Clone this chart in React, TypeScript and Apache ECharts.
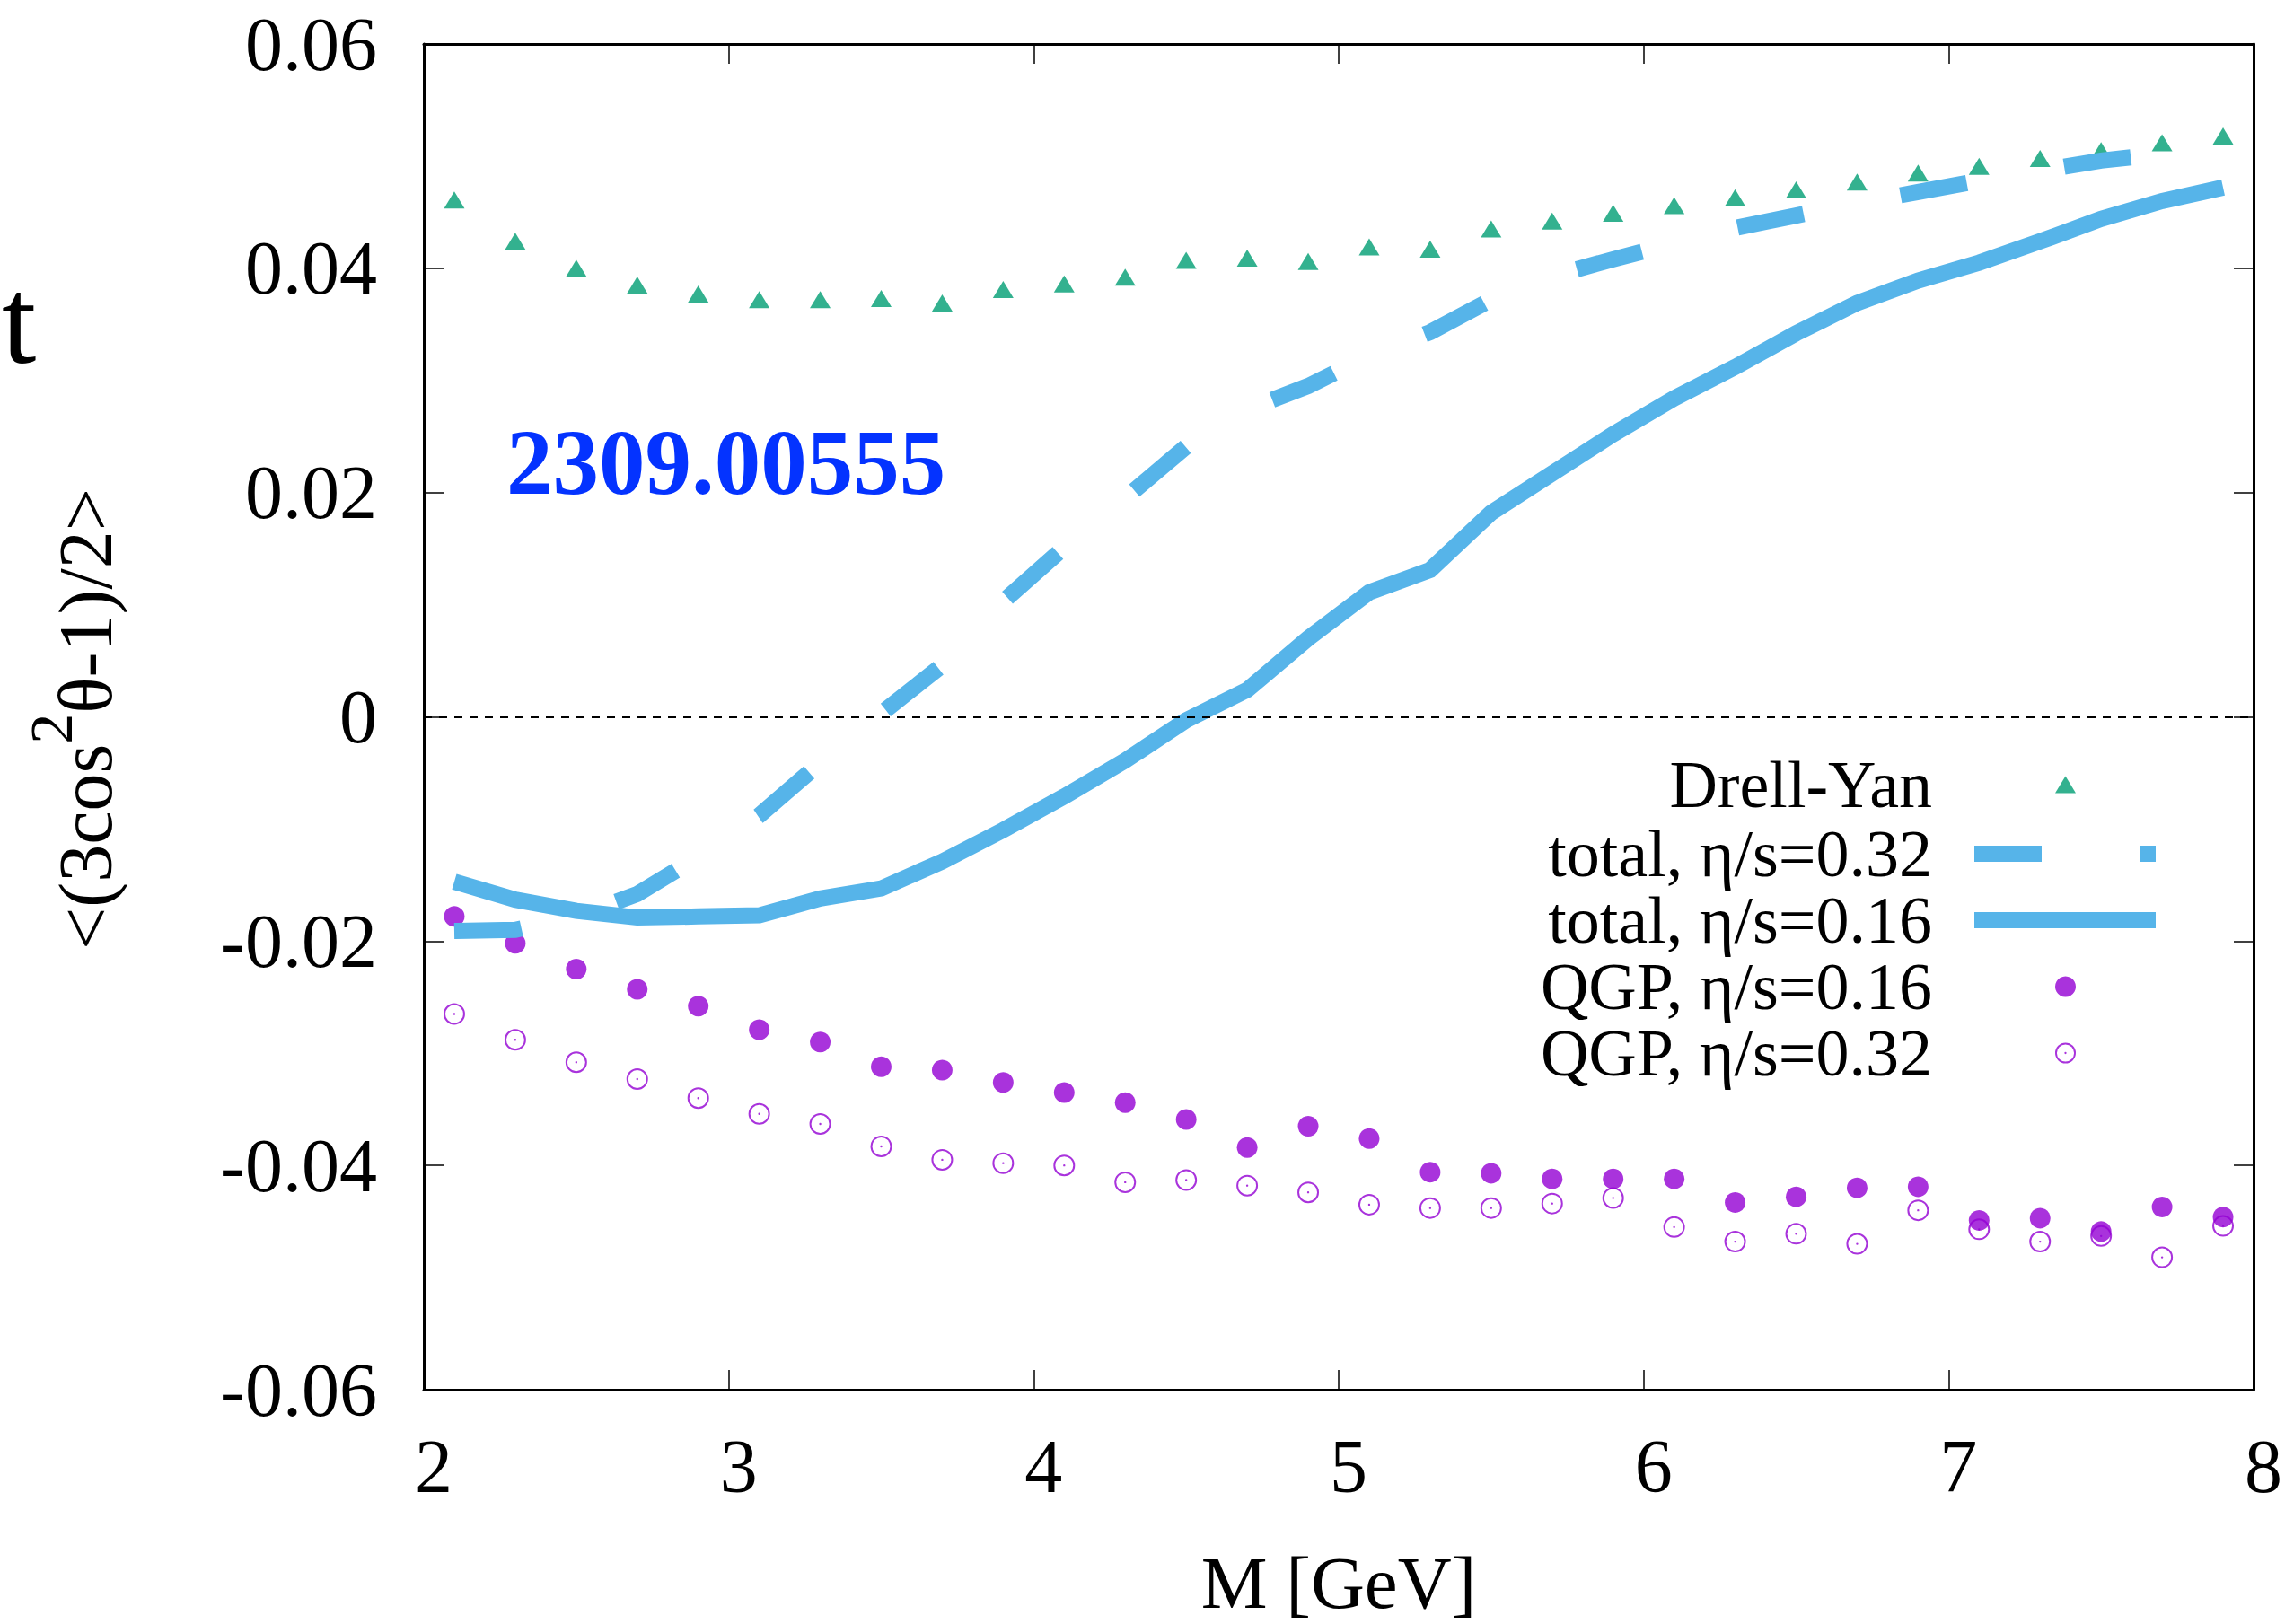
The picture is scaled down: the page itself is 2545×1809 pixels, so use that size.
import React, { useEffect, useRef } from 'react';
import * as echarts from 'echarts';

// Invariant mass M [GeV]
const massValues = [2.1, 2.3, 2.5, 2.7, 2.9, 3.1, 3.3, 3.5, 3.7, 3.9, 4.1, 4.3, 4.5, 4.7, 4.9, 5.1, 5.3, 5.5, 5.7, 5.9, 6.1, 6.3, 6.5, 6.7, 6.9, 7.1, 7.3, 7.5, 7.7, 7.9];

const drellYan = [0.0461, 0.0424, 0.0400, 0.0385, 0.0377, 0.0372, 0.0372, 0.0373, 0.0369, 0.0381, 0.0386, 0.0392, 0.0407, 0.0409, 0.0406, 0.0419, 0.0417, 0.0435, 0.0442, 0.0449, 0.0456, 0.0463, 0.0470, 0.0477, 0.0485, 0.0491, 0.0498, 0.0505, 0.0512, 0.0518];

const total032 = [-0.0191, -0.0190, -0.0178, -0.0158, -0.0125, -0.0088, -0.0041, 0.0003, 0.0046, 0.0103, 0.0151, 0.0195, 0.0241, 0.0274, 0.0295, 0.0322, 0.0343, 0.0372, 0.0393, 0.0408, 0.0422, 0.0436, 0.0447, 0.0458, 0.0468, 0.0478, 0.0487, 0.0496, 0.0502, 0.0508];

const total016 = [-0.0147, -0.0163, -0.0173, -0.0179, -0.0178, -0.0177, -0.0162, -0.0153, -0.0129, -0.0101, -0.0071, -0.0039, -0.0003, 0.0024, 0.0070, 0.0111, 0.0131, 0.0182, 0.0217, 0.0252, 0.0284, 0.0312, 0.0342, 0.0369, 0.0389, 0.0405, 0.0424, 0.0444, 0.0460, 0.0472];

const qgp016 = [-0.0178, -0.0202, -0.0225, -0.0243, -0.0258, -0.0279, -0.0290, -0.0312, -0.0315, -0.0326, -0.0335, -0.0344, -0.0359, -0.0384, -0.0365, -0.0376, -0.0406, -0.0407, -0.0412, -0.0412, -0.0412, -0.0433, -0.0428, -0.0420, -0.0419, -0.0449, -0.0447, -0.0459, -0.0437, -0.0446];

const qgp032 = [-0.0265, -0.0288, -0.0308, -0.0323, -0.0340, -0.0354, -0.0363, -0.0383, -0.0395, -0.0398, -0.0400, -0.0415, -0.0413, -0.0418, -0.0424, -0.0435, -0.0438, -0.0438, -0.0434, -0.0429, -0.0455, -0.0468, -0.0461, -0.0470, -0.0440, -0.0457, -0.0468, -0.0463, -0.0482, -0.0454];

const seriesNames = ['Drell-Yan', 'total, η/s=0.32', 'total, η/s=0.16', 'QGP, η/s=0.16', 'QGP, η/s=0.32'];

const xRange = { min: 2, max: 8, interval: 1 };
const yRange = { min: -0.06, max: 0.06, interval: 0.02 };

const FONT = 'Liberation Serif';
const BLUE = '#56b4e9';
const GREEN = '#009e73';
const PURPLE = '#9400d3';

const openCirclePath =
  'path://M24 12A12 12 0 1 1 0 12A12 12 0 1 1 24 12Z' +
  'M22 12A10 10 0 1 0 2 12A10 10 0 1 0 22 12Z' +
  'M13.2 12A1.2 1.2 0 1 1 10.8 12A1.2 1.2 0 1 1 13.2 12Z';

const pairs = (ys: number[]) => massValues.map((m, i) => [m, ys[i]]);

export default function App() {
  const ref = useRef<HTMLDivElement>(null);

  useEffect(() => {
    document.body.style.margin = '0';
    if (!ref.current) return;
    const chart = echarts.init(ref.current, null, { renderer: 'svg' });

    const frameLine = { show: true, onZero: false, lineStyle: { color: '#000', width: 3 } };
    const tick = { show: true, inside: true, length: 22, lineStyle: { color: '#000', width: 1.5 } };

    const legendText = (padRight: number) => ({
      fontFamily: FONT, fontSize: 74, color: '#000', lineHeight: 74,
      padding: [0, padRight, 0, 0],
    });
    const legendBase = {
      show: true, orient: 'vertical', align: 'right', padding: 0, itemGap: 0,
      selectedMode: false, symbolKeepAspect: true,
    };

    const option: any = {
      animation: false,
      backgroundColor: '#fff',
      grid: { left: 472, right: 33, top: 49, bottom: 254, containLabel: false },
      xAxis: [
        {
          type: 'value', position: 'bottom', ...xRange,
          axisLine: frameLine, axisTick: tick, splitLine: { show: false },
          axisLabel: {
            show: true, margin: 43, fontFamily: FONT, fontSize: 84, color: '#000',
            padding: [0, 0, 0, 22],
            formatter: (v: number) => String(Math.round(v)),
          },
          name: 'M [GeV]', nameLocation: 'middle', nameGap: 173,
          nameTextStyle: { fontFamily: FONT, fontSize: 83, color: '#000' },
        },
        {
          type: 'value', position: 'top', ...xRange,
          axisLine: frameLine, axisTick: tick, splitLine: { show: false },
          axisLabel: { show: false },
        },
      ],
      yAxis: [
        {
          type: 'value', position: 'left', ...yRange,
          axisLine: frameLine, axisTick: tick, splitLine: { show: false },
          axisLabel: {
            show: true, margin: 52, fontFamily: FONT, fontSize: 84, color: '#000',
            formatter: (v: number) => (Math.abs(v) < 1e-9 ? '0' : v.toFixed(2)),
          },
        },
        {
          type: 'value', position: 'right', ...yRange,
          axisLine: frameLine, axisTick: tick, splitLine: { show: false },
          axisLabel: { show: false },
        },
      ],
      legend: [
        {
          ...legendBase,
          right: 233, top: 837, itemWidth: 23, itemHeight: 19,
          textStyle: legendText(132),
          data: [{ name: seriesNames[0] }],
        },
        {
          ...legendBase,
          right: 135, top: 914, itemWidth: 202, itemHeight: 22,
          textStyle: legendText(42),
          data: [
            { name: seriesNames[1], itemStyle: { opacity: 0 }, lineStyle: { width: 18, type: [75, 110], cap: 'butt' } },
            { name: seriesNames[2], itemStyle: { opacity: 0 }, lineStyle: { width: 18, type: 'solid', cap: 'butt' } },
          ],
        },
        {
          ...legendBase,
          right: 233, top: 1062, itemWidth: 23, itemHeight: 23,
          textStyle: legendText(132),
          data: [{ name: seriesNames[3] }, { name: seriesNames[4] }],
        },
      ],
      series: [
        {
          name: seriesNames[0], type: 'scatter', xAxisIndex: 0, yAxisIndex: 0,
          data: pairs(drellYan), symbol: 'triangle', symbolSize: [23, 19],
          itemStyle: { color: GREEN },
        },
        {
          name: seriesNames[1], type: 'line', xAxisIndex: 0, yAxisIndex: 0,
          data: pairs(total032), symbol: 'none', showSymbol: false,
          itemStyle: { color: BLUE },
          lineStyle: { color: BLUE, width: 18, type: [75, 110], dashOffset: 0, cap: 'butt', join: 'miter' },
        },
        {
          name: seriesNames[2], type: 'line', xAxisIndex: 0, yAxisIndex: 0,
          data: pairs(total016), symbol: 'none', showSymbol: false,
          itemStyle: { color: BLUE },
          lineStyle: { color: BLUE, width: 18, type: 'solid', cap: 'butt', join: 'miter' },
        },
        {
          name: seriesNames[3], type: 'scatter', xAxisIndex: 0, yAxisIndex: 0,
          data: pairs(qgp016), symbol: 'circle', symbolSize: 23,
          itemStyle: { color: PURPLE },
        },
        {
          name: seriesNames[4], type: 'scatter', xAxisIndex: 0, yAxisIndex: 0,
          data: pairs(qgp032), symbol: openCirclePath, symbolSize: 24,
          itemStyle: { color: PURPLE },
          markLine: {
            silent: true, symbol: ['none', 'none'], animation: false,
            label: { show: false },
            lineStyle: { color: '#000', width: 2, type: [9, 8] },
            data: [{ yAxis: 0 }],
          },
        },
      ],
      graphic: [
        {
          type: 'text', x: 2, y: 357,
          style: { text: 't', fontFamily: FONT, fontSize: 138, fill: '#000', align: 'left', verticalAlign: 'middle' },
        },
        {
          type: 'text', x: 564, y: 515,
          style: {
            text: '2309.00555', fontFamily: FONT, fontWeight: 'bold', fontSize: 103,
            fill: '#0433ff', align: 'left', verticalAlign: 'middle',
          },
        },
        {
          type: 'text', x: 95, y: 801, rotation: Math.PI / 2,
          style: {
            text: '{a|<(3cos}{b|2}{a|θ-1)/2>}',
            align: 'center', verticalAlign: 'middle',
            rich: {
              a: { fontFamily: FONT, fontSize: 84, lineHeight: 144, fill: '#000' },
              b: { fontFamily: FONT, fontSize: 68, lineHeight: 68, verticalAlign: 'top', fill: '#000' },
            },
          },
        },
      ],
    };

    chart.setOption(option);
    return () => chart.dispose();
  }, []);

  return <div ref={ref} style={{ width: 2545, height: 1809 }} />;
}
